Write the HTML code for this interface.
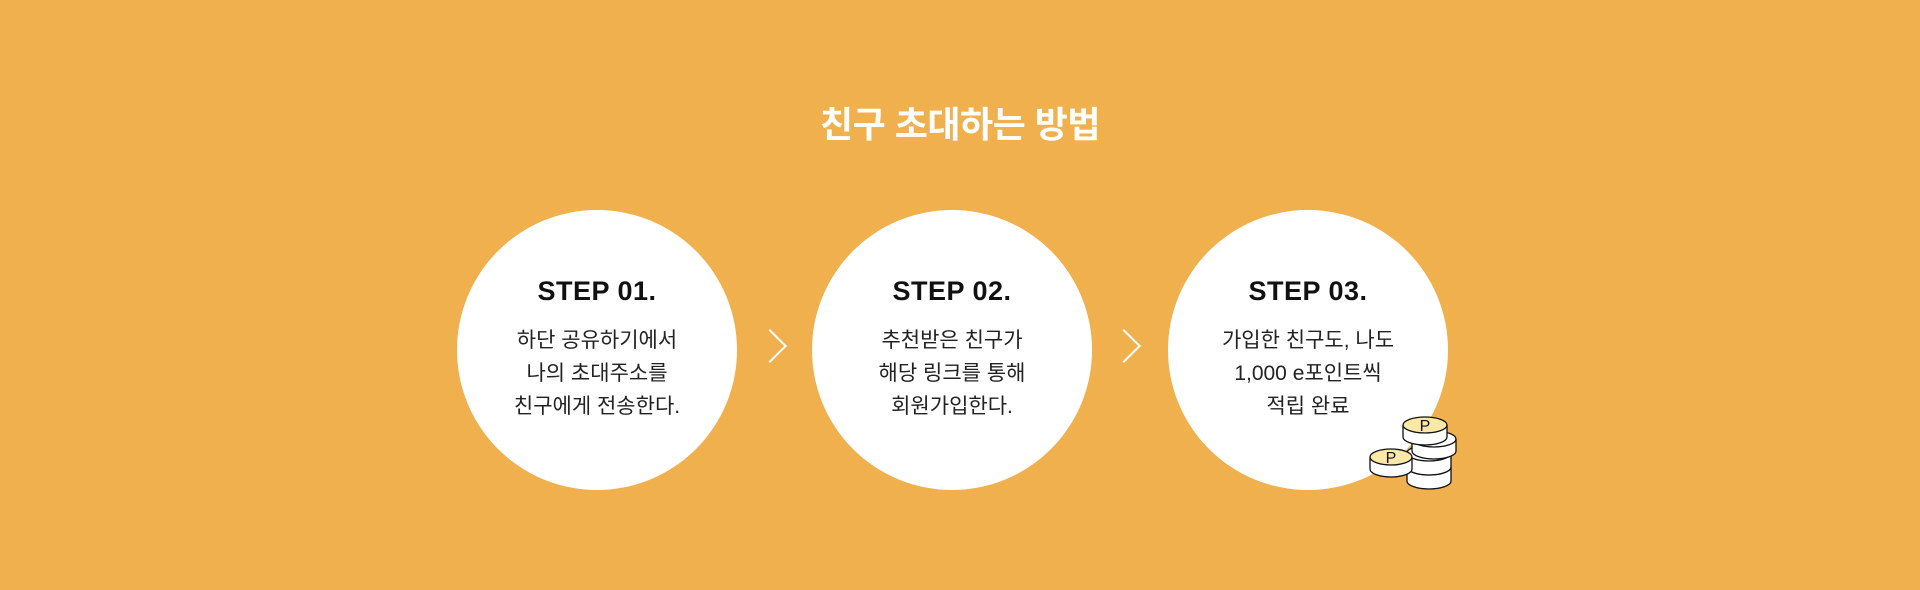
<!DOCTYPE html>
<html><head><meta charset="utf-8"><style>
html,body{margin:0;padding:0}
body{width:1920px;height:590px;background:#F0B04E;position:relative;overflow:hidden;font-family:"Liberation Sans","Noto Sans CJK KR",sans-serif}
.title{position:absolute;top:96px;left:0;width:1920px;text-align:center;color:#fff;font-size:36px;font-weight:bold;letter-spacing:-0.5px}
.c{position:absolute;top:210px;width:280px;height:280px;border-radius:50%;background:#fff;text-align:center}
.c h3{margin:0;position:absolute;top:66px;width:100%;font-size:27px;font-weight:bold;color:#111;letter-spacing:0.5px}
.c p{margin:0;position:absolute;top:114px;width:100%;font-size:21px;line-height:33px;color:#222}
.arr{position:absolute;top:334px;width:22px;height:22px;border-top:2px solid #fff;border-right:2px solid #fff;transform:rotate(45deg)}
</style></head><body>
<div class="title">친구 초대하는 방법</div>
<div class="c" style="left:457px"><h3>STEP 01.</h3><p>하단 공유하기에서<br>나의 초대주소를<br>친구에게 전송한다.</p></div>
<div class="arr" style="left:758px"></div>
<div class="c" style="left:812px"><h3>STEP 02.</h3><p>추천받은 친구가<br>해당 링크를 통해<br>회원가입한다.</p></div>
<div class="arr" style="left:1112px"></div>
<div class="c" style="left:1168px"><h3>STEP 03.</h3><p>가입한 친구도, 나도<br>1,000 e포인트씩<br>적립 완료</p></div>
<svg style="position:absolute;left:1360px;top:405px" width="110" height="90" viewBox="0 0 110 90" fill="#fff" stroke="#111" stroke-width="1.3">
<g>
<path d="M47 62 v14 a22 8 0 0 0 44 0 v-14"/><ellipse cx="69" cy="62" rx="22" ry="8"/>
<path d="M47 48 v14 a22 8 0 0 0 44 0 v-14"/><ellipse cx="69" cy="48" rx="22" ry="8"/>
<path d="M52 34 v12 a22 8 0 0 0 44 0 v-12"/><ellipse cx="74" cy="34" rx="22" ry="8"/>
<path d="M43 20 v12 a22 8 0 0 0 44 0 v-12"/><ellipse cx="65" cy="20" rx="22" ry="8" fill="#FBE7A6"/>
<text x="65" y="26" font-size="16" fill="#111" stroke="none" text-anchor="middle" font-family="Liberation Sans">P</text>
<path d="M10 52 v12 a21 8 0 0 0 42 0 v-12"/><ellipse cx="31" cy="52" rx="21" ry="8" fill="#FBE7A6"/>
<text x="31" y="58" font-size="16" fill="#111" stroke="none" text-anchor="middle" font-family="Liberation Sans">P</text>
</g></svg>
</body></html>
